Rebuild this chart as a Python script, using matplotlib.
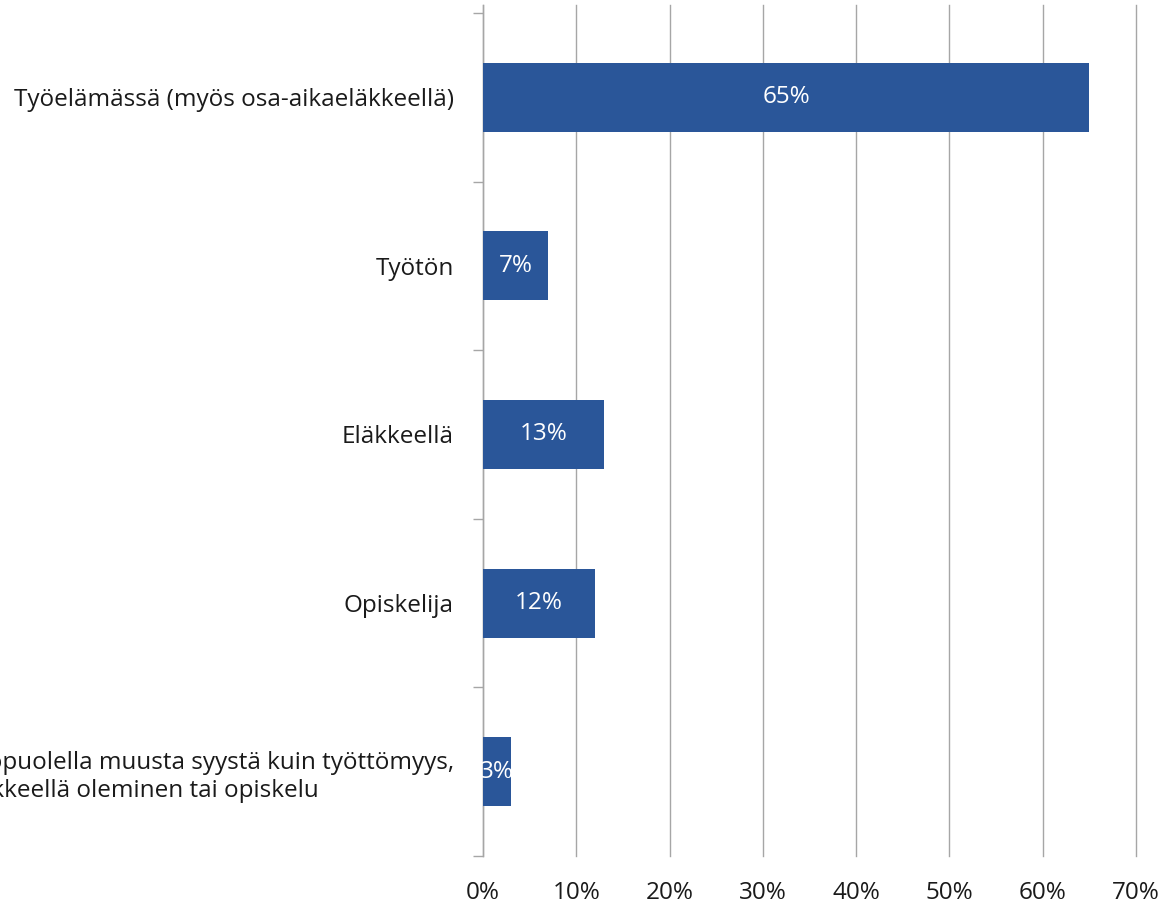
import numpy as np
from matplotlib import pyplot as plt

categories = [
    "Työelämässä (myös osa-aikaeläkkeellä)",
    "Työtön",
    "Eläkkeellä",
    "Opiskelija",
    "Työelämän ulkopuolella muusta syystä kuin työttömyys,\neläkkeellä oleminen tai opiskelu",
]
values = [65, 7, 13, 12, 3]
x_ticks = [0, 10, 20, 30, 40, 50, 60, 70]

bar_color = "#2A5699"
grid_color = "#A6A6A6"

plt.rcParams["font.family"] = ["Open Sans", "DejaVu Sans"]

fig = plt.figure(figsize=(11.64, 9.07), dpi=100)
ax = fig.add_axes([483 / 1164, 1 - 856 / 907, (1136 - 483) / 1164, (856 - 5) / 907])

y = np.arange(len(categories))
bars = ax.barh(y, values, height=0.41, color=bar_color, zorder=3)

for b, v in zip(bars, values):
    ax.text(b.get_x() + b.get_width() / 2, b.get_y() + b.get_height() / 2, f"{v}%",
            ha="center", va="center", color="white", fontsize=17.5, zorder=4)

ax.set_xlim(0, 70)
ax.set_ylim(len(categories) - 0.5, -0.5 - 0.047)

ax.set_xticks(x_ticks)
ax.set_xticklabels([f"{t}%" for t in x_ticks])
ax.tick_params(axis="x", length=0, pad=18, labelsize=17.5, labelcolor="#1a1a1a")

ax.set_yticks(y)
ax.set_yticklabels(categories)
ax.set_yticks(np.arange(-0.5, len(categories), 1.0), minor=True)
ax.tick_params(axis="y", which="major", length=0, pad=21, labelsize=17.5, labelcolor="#1a1a1a")
ax.tick_params(axis="y", which="minor", length=7, width=1, color=grid_color, direction="out")
for lab in ax.get_yticklabels():
    lab.set_multialignment("center")
    lab.set_linespacing(1.25)

ax.grid(axis="x", color=grid_color, linewidth=1, zorder=0)
for gl in ax.get_xgridlines():
    gl.set_clip_on(False)
for s in ["top", "right", "bottom"]:
    ax.spines[s].set_visible(False)
ax.spines["left"].set_color(grid_color)
ax.spines["left"].set_linewidth(1)

fig.savefig("out.png", dpi=100)
